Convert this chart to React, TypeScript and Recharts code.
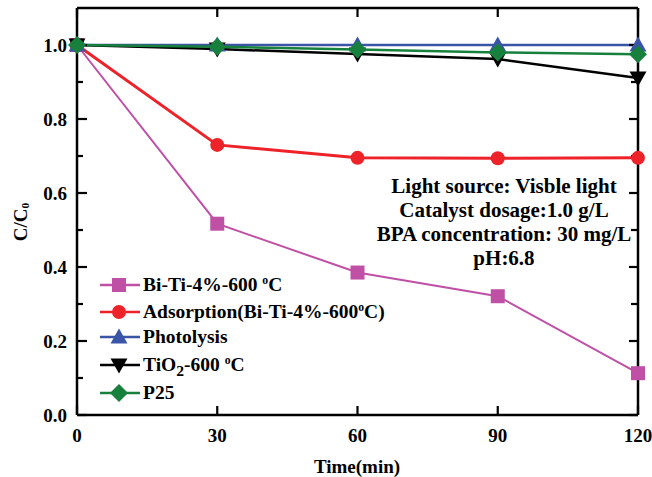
import React from "react";
import { LineChart, Line, XAxis, YAxis } from "recharts";

const times = [0, 30, 60, 90, 120];
const biTi = [1.0, 0.517, 0.385, 0.321, 0.113];
const adsorption = [1.0, 0.73, 0.695, 0.694, 0.695];
const photolysis = [1.0, 1.0, 1.0, 1.0, 1.0];
const tio2 = [1.0, 0.989, 0.976, 0.962, 0.911];
const p25 = [1.0, 0.995, 0.988, 0.98, 0.975];

const xTicks = [0, 30, 60, 90, 120];
const yMajor = [0, 0.2, 0.4, 0.6, 0.8, 1.0];
const yMinor = [0.1, 0.3, 0.5, 0.7, 0.9];
const notes = ["Light source: Visble light", "Catalyst dosage:1.0 g/L", "BPA concentration: 30 mg/L", "pH:6.8"];

const data = times.map((t, i) => ({
  t,
  biTi: biTi[i],
  adsorption: adsorption[i],
  photolysis: photolysis[i],
  tio2: tio2[i],
  p25: p25[i],
}));

const font = "'Liberation Serif', 'Times New Roman', serif";
const PURPLE = "#bf50a6";
const RED = "#ee2229";
const BLUE = "#3a55a6";
const GREEN = "#17803d";

type Shape = "square" | "circle" | "up" | "down" | "diamond";

function marker(shape: Shape, cx: number, cy: number, color: string, key?: any) {
  if (shape === "square") return <rect key={key} x={cx - 7} y={cy - 7} width={14} height={14} fill={color} />;
  if (shape === "circle") return <circle key={key} cx={cx} cy={cy} r={7} fill={color} />;
  if (shape === "up")
    return <polygon key={key} points={`${cx},${cy - 8.5} ${cx - 8.5},${cy + 6.5} ${cx + 8.5},${cy + 6.5}`} fill={color} />;
  if (shape === "down")
    return <polygon key={key} points={`${cx},${cy + 8.5} ${cx - 8.5},${cy - 6.5} ${cx + 8.5},${cy - 6.5}`} fill={color} />;
  return <polygon key={key} points={`${cx},${cy - 9} ${cx + 9},${cy} ${cx},${cy + 9} ${cx - 9},${cy}`} fill={color} />;
}

const dot = (shape: Shape, color: string) => (p: any) => marker(shape, p.cx, p.cy, color, p.index);

const tickText = { fill: "#000", fontSize: 19, fontWeight: "bold", fontFamily: font };
const tickLine = { stroke: "#000", strokeWidth: 2.2 };
const frame = { stroke: "#000", strokeWidth: 2.5 };
const NoLabel = () => <g />;

const sup = { fontSize: "0.6em", verticalAlign: "0.6em", lineHeight: 0 } as React.CSSProperties;

const legendRows: { label: React.ReactNode; shape: Shape; color: string; y: number }[] = [
  { label: <>Bi-Ti-4%-600 <sup style={sup}>o</sup>C</>, shape: "square", color: PURPLE, y: 285 },
  { label: <>Adsorption(Bi-Ti-4%-600<sup style={sup}>o</sup>C)</>, shape: "circle", color: RED, y: 312 },
  { label: <>Photolysis</>, shape: "up", color: BLUE, y: 337 },
  { label: <>TiO<sub style={{ fontSize: "0.8em", verticalAlign: "-0.3em", lineHeight: 0 }}>2</sub>-600 <sup style={sup}>o</sup>C</>, shape: "down", color: "#000", y: 365 },
  { label: <>P25</>, shape: "diamond", color: GREEN, y: 393 },
];

export default function App() {
  return (
    <div style={{ position: "absolute", left: 0, top: 0, width: 652, height: 477, background: "#fff", fontFamily: font }}>
      <LineChart width={652} height={477} data={data} margin={{ top: 0, right: 14, bottom: 22, left: 17 }}>
        {/* bottom axis: labels */}
        <XAxis xAxisId="b" dataKey="t" type="number" domain={[0, 120]} ticks={xTicks} interval={0}
          height={40} tickLine={false} tickSize={0} tickMargin={14} axisLine={frame} tick={tickText} />
        {/* inward tick marks and the rest of the frame */}
        <XAxis xAxisId="bt" mirror dataKey="t" type="number" domain={[0, 120]} ticks={xTicks} interval={0}
          height={1} tickSize={9} tickLine={tickLine} tick={NoLabel} axisLine={false} />
        <XAxis xAxisId="t" orientation="top" dataKey="t" type="number" domain={[0, 120]} ticks={xTicks} interval={0}
          height={8} tickSize={-9} tickLine={tickLine} tick={NoLabel} axisLine={frame} />
        <YAxis yAxisId="l" type="number" domain={[0, 1.1]} ticks={yMajor} interval={0} allowDataOverflow
          width={60} tickLine={false} tickSize={0} tickMargin={10} axisLine={frame} tick={tickText}
          tickFormatter={(v: number) => v.toFixed(1)} />
        <YAxis yAxisId="lt" mirror type="number" domain={[0, 1.1]} ticks={yMajor} interval={0} allowDataOverflow
          width={1} tickSize={9} tickLine={tickLine} tick={NoLabel} axisLine={false} />
        <YAxis yAxisId="lm" mirror type="number" domain={[0, 1.1]} ticks={yMinor} interval={0} allowDataOverflow
          width={1} tickSize={6} tickLine={tickLine} tick={NoLabel} axisLine={false} />
        <YAxis yAxisId="r" orientation="right" mirror type="number" domain={[0, 1.1]} ticks={yMajor} interval={0} allowDataOverflow
          width={1} tickSize={9} tickLine={tickLine} tick={NoLabel} axisLine={frame} />
        <YAxis yAxisId="rm" orientation="right" mirror type="number" domain={[0, 1.1]} ticks={yMinor} interval={0} allowDataOverflow
          width={1} tickSize={6} tickLine={tickLine} tick={NoLabel} axisLine={false} />
        <Line xAxisId="b" yAxisId="l" dataKey="biTi" stroke={PURPLE} strokeWidth={2} dot={dot("square", PURPLE)} isAnimationActive={false} />
        <Line xAxisId="b" yAxisId="l" dataKey="adsorption" stroke={RED} strokeWidth={3} dot={dot("circle", RED)} isAnimationActive={false} />
        <Line xAxisId="b" yAxisId="l" dataKey="photolysis" stroke={BLUE} strokeWidth={2.5} dot={dot("up", BLUE)} isAnimationActive={false} />
        <Line xAxisId="b" yAxisId="l" dataKey="tio2" stroke="#000" strokeWidth={2.5} dot={dot("down", "#000")} isAnimationActive={false} />
        <Line xAxisId="b" yAxisId="l" dataKey="p25" stroke={GREEN} strokeWidth={2.5} dot={dot("diamond", GREEN)} isAnimationActive={false} />
      </LineChart>

      <div style={{ position: "absolute", left: 0, top: 0, width: 652, height: 477, pointerEvents: "none", fontWeight: "bold", color: "#000" }}>
        <div
          style={{
            position: "absolute",
            left: 20,
            top: 222,
            transform: "translate(-50%, -50%) rotate(-90deg)",
            fontSize: 19,
            whiteSpace: "nowrap",
            lineHeight: 1,
          }}
        >
          C/C<sub style={{ fontSize: "0.6em", verticalAlign: "-0.25em", lineHeight: 0 }}>0</sub>
        </div>
        <div style={{ position: "absolute", left: 357, top: 466, transform: "translate(-50%, -50%)", fontSize: 19, whiteSpace: "nowrap", lineHeight: 1 }}>
          Time(min)
        </div>
        {notes.map((n, i) => (
          <div
            key={i}
            style={{ position: "absolute", left: 504, top: 186 + i * 24, transform: "translate(-50%, -50%)", fontSize: 21, whiteSpace: "nowrap", lineHeight: 1 }}
          >
            {n}
          </div>
        ))}
        {legendRows.map((r, i) => (
          <div key={i} style={{ position: "absolute", left: 100, top: r.y, transform: "translateY(-50%)", display: "flex", alignItems: "center", fontSize: 19.5, whiteSpace: "nowrap", lineHeight: 1 }}>
            <svg width={40} height={20} style={{ display: "block" }}>
              <line x1={0} x2={40} y1={10} y2={10} stroke={r.color} strokeWidth={2.5} />
              {marker(r.shape, 19, 10, r.color)}
            </svg>
            <span style={{ marginLeft: 3 }}>{r.label}</span>
          </div>
        ))}
      </div>
    </div>
  );
}
